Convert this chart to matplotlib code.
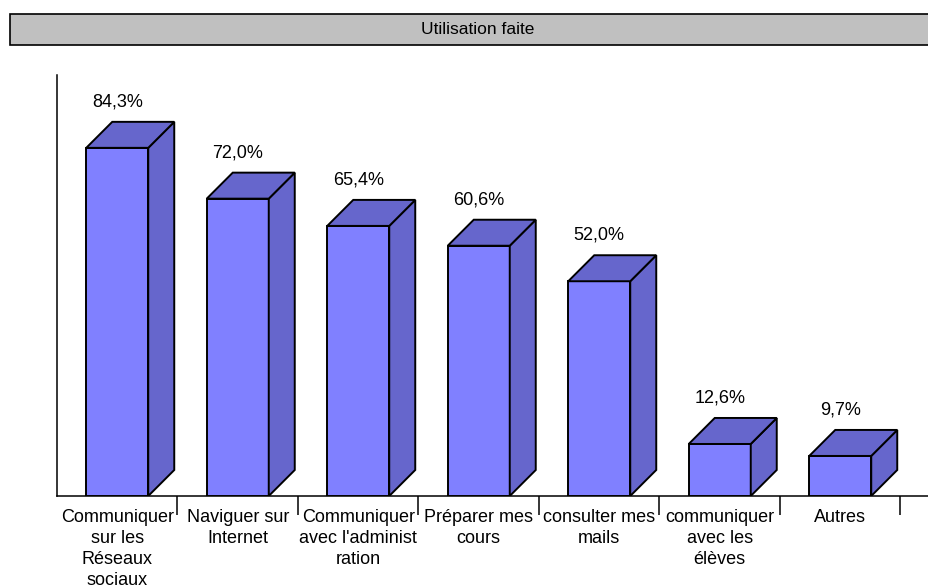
import matplotlib
matplotlib.use("Agg")
import matplotlib.pyplot as plt
from matplotlib.patches import Rectangle, Polygon

plt.rcParams["font.family"] = ["Liberation Sans", "DejaVu Sans"]

# ── DATA ─────────────────────────────────────────────────────
categories = [
    "Communiquer\nsur les\nRéseaux\nsociaux",
    "Naviguer sur\nInternet",
    "Communiquer\navec l'administ\nration",
    "Préparer mes\ncours",
    "consulter mes\nmails",
    "communiquer\navec les\nélèves",
    "Autres",
]
values = [84.3, 72.0, 65.4, 60.6, 52.0, 12.6, 9.7]
value_labels = ["84,3%", "72,0%", "65,4%", "60,6%", "52,0%", "12,6%", "9,7%"]
title = "Utilisation faite"

FRONT = "#8080FF"
SIDE = "#6666CC"

W, H = 929, 586
fig = plt.figure(figsize=(W / 100, H / 100), dpi=100)

# axes placed in pixel terms: left axis at x=57, baseline at y=496, top at y=75
ax_left, ax_right = 57, 929
ax_top, ax_bottom = 75, 496
ax = fig.add_axes([ax_left / W, (H - ax_bottom) / H,
                   (ax_right - ax_left) / W, (ax_bottom - ax_top) / H])

cat_px = 120.5          # pixel width of one category
px_per_pct = 4.13       # pixel height of 1 %
ax.set_xlim(0, (ax_right - ax_left) / cat_px)
ax.set_ylim(0, (ax_bottom - ax_top) / px_per_pct)

depth_x = 26 / cat_px
depth_y = 26 / px_per_pct
half_w = 31 / cat_px

for i, v in enumerate(values):
    c = i + 0.5
    x0, x1 = c - half_w, c + half_w
    # front face
    ax.add_patch(Rectangle((x0, 0), x1 - x0, v, facecolor=FRONT,
                           edgecolor="black", lw=1.4, zorder=3))
    # side face
    ax.add_patch(Polygon([(x1, 0), (x1 + depth_x, depth_y),
                          (x1 + depth_x, v + depth_y), (x1, v)],
                         closed=True, facecolor=SIDE, edgecolor="black",
                         lw=1.4, zorder=3))
    # top face
    ax.add_patch(Polygon([(x0, v), (x0 + depth_x, v + depth_y),
                          (x1 + depth_x, v + depth_y), (x1, v)],
                         closed=True, facecolor=SIDE, edgecolor="black",
                         lw=1.4, zorder=3))
    ax.text(c, v + depth_y + 20 / px_per_pct, value_labels[i],
            ha="center", va="center", fontsize=13, color="black")

for s in ["top", "right"]:
    ax.spines[s].set_visible(False)
for s in ["left", "bottom"]:
    ax.spines[s].set_linewidth(1.1)
    ax.spines[s].set_color("black")

ax.set_yticks([])
ax.set_xticks([i + 0.5 for i in range(len(categories))])
ax.set_xticklabels(categories, fontsize=13, linespacing=1.32, va="top")
ax.tick_params(axis="x", which="major", length=0, pad=9)
ax.set_xticks([i for i in range(1, len(categories) + 1)], minor=True)
ax.tick_params(axis="x", which="minor", length=14, width=1.1,
               direction="out", color="black")

# ── TITLE BAR ────────────────────────────────────────────────
fig.patches.append(Rectangle((10 / W, (H - 45) / H), 960 / W, 31 / H,
                             transform=fig.transFigure, facecolor="#C0C0C0",
                             edgecolor="black", lw=1.2, zorder=0))
fig.text(478 / W, (H - 30) / H, title, ha="center", va="center",
         fontsize=12.5, color="black")

fig.savefig("out.png", dpi=100)
